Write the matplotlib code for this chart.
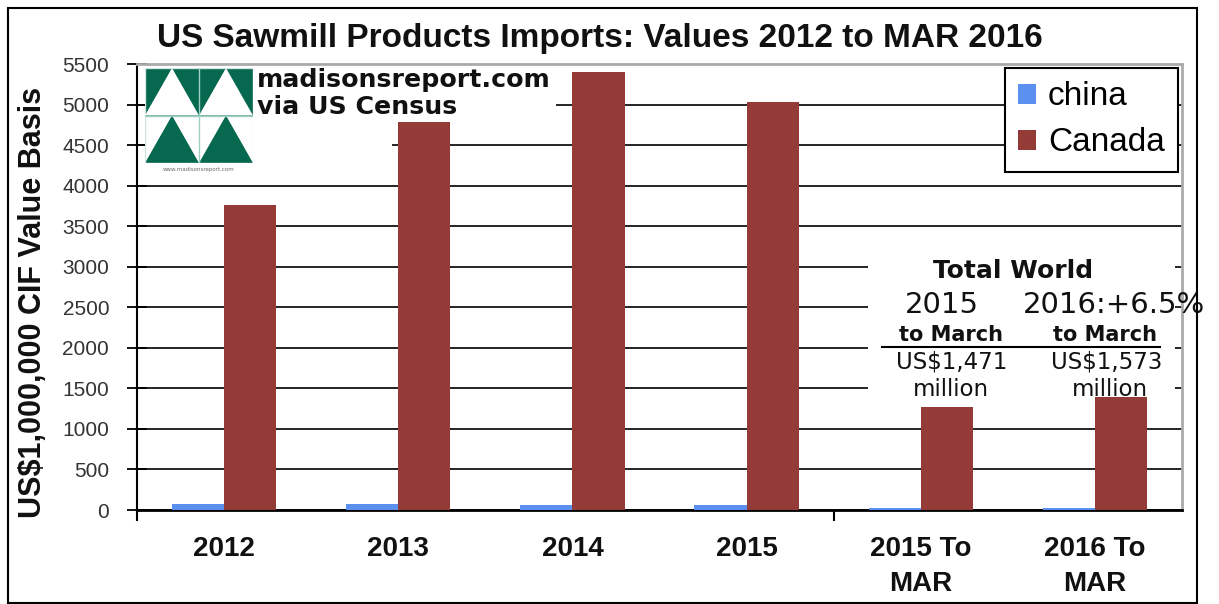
import matplotlib
matplotlib.use("Agg")
import matplotlib.pyplot as plt
import numpy as np
from matplotlib.patches import Rectangle, Polygon
from matplotlib.lines import Line2D

categories = ['2012', '2013', '2014', '2015', '2015 To\nMAR', '2016 To\nMAR']
china = [75, 75, 60, 65, 30, 30]
canada = [3760, 4780, 5400, 5030, 1270, 1390]
yticks = [0, 500, 1000, 1500, 2000, 2500, 3000, 3500, 4000, 4500, 5000, 5500]

W, H = 1219, 604
fig = plt.figure(figsize=(W / 100, H / 100), dpi=100)
fig.patch.set_facecolor('white')

def fx(px):
    return px / W

def fy(py):
    return 1 - py / H

ax = fig.add_axes([fx(137), fy(510), fx(1182) - fx(137), fy(64) - fy(510)])
x = np.arange(len(categories))
bw = 0.3
ax.bar(x - bw / 2, china, bw, color='#5b8ff0', label='china', zorder=3)
ax.bar(x + bw / 2, canada, bw, color='#943a37', label='Canada', zorder=3)

ax.set_xlim(-0.5, len(categories) - 0.5)
ax.set_ylim(0, 5500)
ax.set_yticks(yticks)
ax.set_yticklabels([str(v) for v in yticks], fontsize=15, color='#333333',
                   family='Liberation Sans')
ax.tick_params(axis='y', direction='inout', length=14, width=1.3, pad=13)
ax.set_xticks(x)
ax.set_xticklabels(categories, fontsize=20, fontweight='bold', family='Liberation Sans',
                   linespacing=1.45, color='#111111')
ax.tick_params(axis='x', which='major', length=0, pad=19)
ax.set_xticks([-0.5, 3.5], minor=True)
ax.tick_params(axis='x', which='minor', direction='out', length=8, width=1.5)

ax.yaxis.grid(True, color='black', linewidth=1.2)
ax.set_axisbelow(True)
ax.spines['left'].set_color('black')
ax.spines['left'].set_linewidth(1.5)
ax.spines['bottom'].set_color('black')
ax.spines['bottom'].set_linewidth(2)
for s in ['top', 'right']:
    ax.spines[s].set_color('#aaaaaa')
    ax.spines[s].set_linewidth(2)

leg = ax.legend(loc='upper right', bbox_to_anchor=(fx(1178), fy(68)),
                bbox_transform=fig.transFigure, borderaxespad=0,
                prop={'family': 'Liberation Sans', 'size': 24},
                fancybox=False, edgecolor='black', framealpha=1,
                handlelength=0.55, handleheight=0.55, handletextpad=0.35,
                labelspacing=0.45, borderpad=0.4)
leg.get_frame().set_linewidth(1.5)

# title and y label
fig.text(fx(600), fy(38), 'US Sawmill Products Imports: Values 2012 to MAR 2016',
         ha='center', va='center', fontsize=24, fontweight='bold',
         family='Liberation Sans', color='#111111')
fig.text(fx(33), fy(302), 'US$1,000,000 CIF Value Basis', rotation=90,
         ha='center', va='center', fontsize=22, fontweight='bold',
         family='Liberation Sans', color='#111111')

# white boxes covering gridlines
def white_box(x0, y0, x1, y1):
    r = Rectangle((fx(x0), fy(y1)), fx(x1) - fx(x0), fy(y0) - fy(y1),
                  transform=fig.transFigure, facecolor='white', edgecolor='none',
                  zorder=5)
    fig.patches.append(r)

white_box(253, 66, 556, 120)
white_box(253, 120, 392, 172)
white_box(145, 66, 253, 175)
white_box(868, 254, 1175, 394)

# logo
lax = fig.add_axes([fx(145), fy(163), fx(253) - fx(145), fy(68) - fy(163)], zorder=6)
lax.set_xlim(0, 2)
lax.set_ylim(0, 2)
lax.axis('off')
green = '#06684f'
lax.add_patch(Rectangle((0, 1), 2, 1, facecolor=green, edgecolor='none'))
for i in range(2):
    lax.add_patch(Polygon([(i, 1), (i + 1, 1), (i + 0.5, 2)], closed=True,
                          facecolor='white', edgecolor='none'))
    lax.add_patch(Polygon([(i, 0), (i + 1, 0), (i + 0.5, 1)], closed=True,
                          facecolor=green, edgecolor='none'))
lax.plot([0, 2], [1, 1], color='#9fd0c4', lw=1)
lax.plot([1, 1], [0, 2], color='#9fd0c4', lw=1)
lax.add_patch(Rectangle((0, 0), 2, 2, facecolor='none', edgecolor='#cfe5df', lw=1))
fig.text(fx(199), fy(170), 'www.madisonsreport.com', ha='center', va='center',
         fontsize=4, color='#666666', zorder=7)

fig.text(fx(257), fy(80), 'madisonsreport.com', ha='left', va='center',
         fontsize=18.2, fontweight='bold', family='DejaVu Sans', color='#111111', zorder=7)
fig.text(fx(257), fy(107), 'via US Census', ha='left', va='center',
         fontsize=18.2, fontweight='bold', family='DejaVu Sans', color='#111111', zorder=7)

# annotation block
def t(px, py, s, size, weight='normal'):
    fig.text(fx(px), fy(py), s, ha='center', va='center', fontsize=size,
             fontweight=weight, family='DejaVu Sans', color='#111111', zorder=7)

t(1013, 271, 'Total World', 18, 'bold')
t(942, 305, '2015', 21)
t(1114, 305, '2016:+6.5%', 21)
t(951, 335, 'to March', 15, 'bold')
t(1105, 335, 'to March', 15, 'bold')
t(952, 362, 'US$1,471', 16.5)
t(951, 389, 'million', 16.5)
t(1107, 362, 'US$1,573', 16.5)
t(1110, 389, 'million', 16.5)
fig.lines.append(Line2D([fx(882), fx(1160)], [fy(347), fy(347)],
                        transform=fig.transFigure, color='black', lw=1.5, zorder=7))

# outer frame
fig.patches.append(Rectangle((fx(8), fy(603)), fx(1197) - fx(8), fy(8) - fy(603),
                             transform=fig.transFigure, facecolor='none',
                             edgecolor='black', lw=1.5, zorder=8))

fig.savefig('out.png', dpi=100)
